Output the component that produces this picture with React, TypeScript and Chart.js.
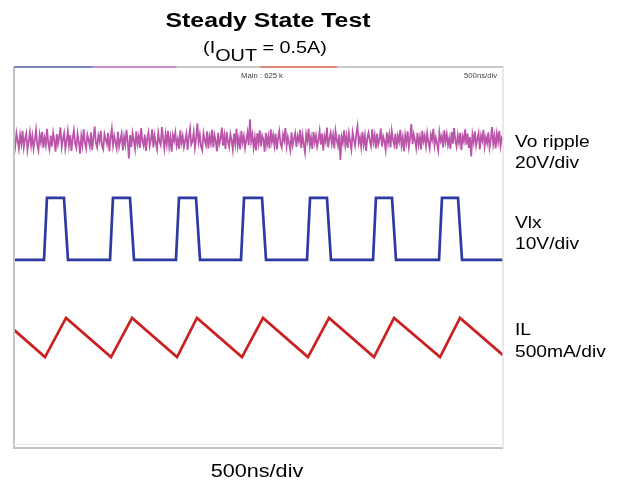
import React, { useEffect, useRef } from "react";
import { Chart, registerables } from "chart.js";

Chart.register(...registerables);

// Time axis: 10 divisions x 500 ns
const timeMin = 0;
const timeMax = 5000;
// Vertical axis in screen divisions (8 divisions)
const divMin = 0;
const divMax = 8;

// Vo ripple samples (one every 12.5 ns), in divisions
const voStep = 12.5;
const voRipple = [
  6.52, 6.34, 6.61, 6.45, 6.28, 6.57, 6.39, 6.66, 6.31, 6.49,
  6.60, 6.26, 6.44, 6.63, 6.35, 6.55, 6.29, 6.47, 6.68, 6.37,
  6.25, 6.58, 6.42, 6.64, 6.30, 6.51, 6.36, 6.70, 6.40, 6.27,
  6.56, 6.33, 6.62, 6.46, 6.22, 6.59, 6.38, 6.53, 6.73, 6.32,
  6.48, 6.61, 6.28, 6.44, 6.65, 6.35, 6.57, 6.24, 6.50, 6.67,
  6.39, 6.30, 6.60, 6.43, 6.18, 6.54, 6.36, 6.69, 6.41, 6.29,
  6.58, 6.47, 6.33, 6.63, 6.26, 6.52, 6.75, 6.40, 6.31, 6.56,
  6.44, 6.66, 6.34, 6.27, 6.59, 6.48, 6.38, 6.62, 6.23, 6.51,
  6.70, 6.36, 6.55, 6.42, 6.29, 6.64, 6.33, 6.47, 6.60, 6.25,
  6.53, 6.37, 6.68, 6.43, 6.08, 6.57, 6.32, 6.61, 6.46, 6.28,
  6.65, 6.39, 6.54, 6.30, 6.72, 6.45, 6.35, 6.58, 6.24, 6.50,
  6.63, 6.34, 6.47, 6.69, 6.31, 6.56, 6.40, 6.27, 6.61, 6.44,
  6.36, 6.74, 6.49, 6.29, 6.59, 6.38, 6.66, 6.33, 6.52, 6.22,
  6.57, 6.45, 6.62, 6.35, 6.48, 6.28, 6.67, 6.41, 6.55, 6.32,
  6.46, 6.60, 6.26, 6.53, 6.71, 6.37, 6.44, 6.63, 6.30, 6.50,
  6.82, 6.42, 6.58, 6.33, 6.25, 6.61, 6.47, 6.36, 6.65, 6.29,
  6.54, 6.40, 6.68, 6.31, 6.57, 6.45, 6.23, 6.62, 6.38, 6.49,
  6.73, 6.35, 6.56, 6.28, 6.64, 6.43, 6.32, 6.59, 6.46, 6.26,
  6.60, 6.39, 6.70, 6.34, 6.51, 6.27, 6.66, 6.42, 6.55, 6.30,
  6.47, 6.63, 6.36, 6.90, 6.44, 6.58, 6.31, 6.52, 6.25, 6.61,
  6.40, 6.67, 6.33, 6.56, 6.48, 6.22, 6.62, 6.37, 6.54, 6.29,
  6.69, 6.43, 6.57, 6.35, 6.60, 6.27, 6.50, 6.65, 6.39, 6.31,
  6.58, 6.46, 6.72, 6.34, 6.53, 6.41, 6.26, 6.63, 6.36, 6.49,
  6.61, 6.32, 6.55, 6.44, 6.68, 6.30, 6.57, 6.38, 6.21, 6.59,
  6.45, 6.70, 6.35, 6.52, 6.28, 6.64, 6.42, 6.56, 6.33, 6.47,
  6.66, 6.37, 6.60, 6.25, 6.54, 6.43, 6.73, 6.31, 6.50, 6.62,
  6.39, 6.57, 6.29, 6.65, 6.46, 6.34, 6.58, 6.05, 6.53, 6.41,
  6.67, 6.36, 6.55, 6.30, 6.61, 6.44, 6.27, 6.63, 6.48, 6.35,
  6.59, 6.76, 6.40, 6.52, 6.32, 6.64, 6.38, 6.56, 6.24, 6.51,
  6.62, 6.45, 6.34, 6.69, 6.42, 6.57, 6.29, 6.60, 6.37, 6.48,
  6.71, 6.33, 6.54, 6.44, 6.26, 6.63, 6.40, 6.58, 6.31, 6.66,
  6.47, 6.36, 6.60, 6.28, 6.55, 6.43, 6.68, 6.35, 6.52, 6.23,
  6.57, 6.41, 6.65, 6.32, 6.50, 6.80, 6.38, 6.59, 6.46, 6.30,
  6.62, 6.37, 6.53, 6.27, 6.66, 6.44, 6.56, 6.34, 6.61, 6.42,
  6.29, 6.58, 6.47, 6.70, 6.35, 6.52, 6.40, 6.25, 6.63, 6.45,
  6.55, 6.31, 6.67, 6.43, 6.59, 6.36, 6.50, 6.28, 6.64, 6.39,
  6.72, 6.46, 6.33, 6.57, 6.41, 6.62, 6.26, 6.54, 6.44, 6.69,
  6.37, 6.60, 6.30, 6.53, 6.12, 6.58, 6.42, 6.65, 6.35, 6.49,
  6.61, 6.27, 6.56, 6.45, 6.68, 6.33, 6.52, 6.40, 6.63, 6.31,
  6.48, 6.74, 6.38, 6.55, 6.29, 6.60, 6.43, 6.66, 6.34, 6.51,
  6.45,
];

// Vlx switching node: corner times (ns) and levels (div)
const vlxTimes = [
  0, 307, 337, 511, 552,
  982, 1012, 1186, 1227,
  1656, 1687, 1861, 1902,
  2321, 2352, 2536, 2577,
  2996, 3027, 3200, 3241,
  3671, 3701, 3865, 3906,
  4346, 4376, 4540, 4581,
  5000,
];
const vlxValues = [
  3.95, 3.95, 5.25, 5.25, 3.95,
  3.95, 5.25, 5.25, 3.95,
  3.95, 5.25, 5.25, 3.95,
  3.95, 5.25, 5.25, 3.95,
  3.95, 5.25, 5.25, 3.95,
  3.95, 5.25, 5.25, 3.95,
  3.95, 5.25, 5.25, 3.95,
  3.95,
];

// Inductor current: valley/peak times (ns) and levels (div)
const ilTimes = [0, 317, 532, 992, 1207, 1667, 1871, 2331, 2546, 3006, 3221, 3681, 3886, 4356, 4560, 5000];
const ilValues = [2.48, 1.91, 2.73, 1.91, 2.73, 1.91, 2.73, 1.91, 2.73, 1.91, 2.73, 1.91, 2.73, 1.91, 2.73, 1.95];

const titleText = "Steady State Test";
const subtitleParts = ["(I", "OUT", " = 0.5A)"];
const xTitleText = "500ns/div";
const scopeHeaderCenter = "Main : 625 k";
const scopeHeaderRight = "500ns/div";
const traceLabels = [
  ["Vo ripple", "20V/div"],
  ["Vlx", "10V/div"],
  ["IL", "500mA/div"],
];

const FONT = "'Liberation Sans', Arial, Helvetica, sans-serif";
const SX = 1.2;

function stretchedText(
  ctx: CanvasRenderingContext2D,
  text: string,
  x: number,
  y: number,
  font: string,
  align: CanvasTextAlign,
  sx: number,
  color = "#000"
) {
  ctx.save();
  ctx.font = font;
  ctx.fillStyle = color;
  ctx.textAlign = align;
  ctx.textBaseline = "alphabetic";
  ctx.translate(x, y);
  ctx.scale(sx, 1);
  ctx.fillText(text, 0, 0);
  ctx.restore();
}

const decorPlugin = {
  id: "scopeDecor",
  beforeDraw(chart: any) {
    const ctx = chart.ctx as CanvasRenderingContext2D;
    ctx.save();
    ctx.fillStyle = "#ffffff";
    ctx.fillRect(0, 0, chart.width, chart.height);
    ctx.restore();
  },
  afterDraw(chart: any) {
    const ctx = chart.ctx as CanvasRenderingContext2D;
    const a = chart.chartArea;

    // screen frame
    ctx.save();
    ctx.strokeStyle = "#c4c4c4";
    ctx.lineWidth = 2;
    ctx.beginPath();
    ctx.moveTo(a.left, a.top);
    ctx.lineTo(a.left, a.bottom);
    ctx.lineTo(a.right, a.bottom);
    ctx.stroke();
    ctx.strokeStyle = "#e2e2e2";
    ctx.lineWidth = 1.5;
    ctx.beginPath();
    ctx.moveTo(a.right, a.top);
    ctx.lineTo(a.right, a.bottom);
    ctx.stroke();
    ctx.strokeStyle = "#ececec";
    ctx.lineWidth = 1;
    ctx.beginPath();
    ctx.moveTo(a.left, a.bottom - 3.5);
    ctx.lineTo(a.right, a.bottom - 3.5);
    ctx.stroke();

    // top channel bar
    const w = a.right - a.left;
    const segs: [number, number, string][] = [
      [0, 0.162, "#7a86c4"],
      [0.162, 0.333, "#c48cc8"],
      [0.333, 0.503, "#c9c9c9"],
      [0.503, 0.661, "#e08878"],
      [0.661, 1, "#c9c9c9"],
    ];
    ctx.lineWidth = 2;
    for (const [s, e, c] of segs) {
      ctx.strokeStyle = c;
      ctx.beginPath();
      ctx.moveTo(a.left + s * w, a.top);
      ctx.lineTo(a.left + e * w, a.top);
      ctx.stroke();
    }
    ctx.restore();

    stretchedText(ctx, scopeHeaderCenter, 262, 78, "7px " + FONT, "center", 1.1, "#444");
    stretchedText(ctx, scopeHeaderRight, a.right - 6, 78, "7px " + FONT, "right", 1.1, "#444");

    // title
    stretchedText(ctx, titleText, 268, 27, "bold 20px " + FONT, "center", 1.24);

    // subtitle with subscript
    const subFont = "16.5px " + FONT;
    ctx.save();
    ctx.font = subFont;
    const widths = subtitleParts.map((p) => ctx.measureText(p).width * SX);
    ctx.restore();
    const total = widths.reduce((s, v) => s + v, 0);
    let x = 265 - total / 2;
    const baselines = [53, 61, 53];
    subtitleParts.forEach((p, i) => {
      stretchedText(ctx, p, x, baselines[i], subFont, "left", SX);
      x += widths[i];
    });

    // x axis caption
    stretchedText(ctx, xTitleText, 257, 477, "18px " + FONT, "center", 1.2);

    // trace labels
    const labelY = [
      [147, 168],
      [228, 249],
      [335, 357],
    ];
    traceLabels.forEach((pair, i) => {
      stretchedText(ctx, pair[0], a.right + 12, labelY[i][0], "17px " + FONT, "left", 1.13);
      stretchedText(ctx, pair[1], a.right + 12, labelY[i][1], "17px " + FONT, "left", 1.13);
    });
  },
};

export default function App() {
  const canvasRef = useRef<HTMLCanvasElement | null>(null);

  useEffect(() => {
    if (!canvasRef.current) return;
    const voData = voRipple.map((v, i) => ({ x: i * voStep, y: v }));
    const vlxData = vlxTimes.map((t, i) => ({ x: t, y: vlxValues[i] }));
    const ilData = ilTimes.map((t, i) => ({ x: t, y: ilValues[i] }));

    const chart = new Chart(canvasRef.current, {
      type: "line",
      data: {
        datasets: [
          {
            label: "Vo ripple",
            data: voData,
            borderColor: "rgba(178, 62, 158, 0.88)",
            borderWidth: 1.8,
            pointRadius: 0,
            tension: 0,
          },
          {
            label: "Vlx",
            data: vlxData,
            borderColor: "#2c3aa2",
            borderWidth: 2.7,
            pointRadius: 0,
            tension: 0,
          },
          {
            label: "IL",
            data: ilData,
            borderColor: "#cc2020",
            borderWidth: 2.7,
            pointRadius: 0,
            tension: 0,
          },
        ],
      },
      options: {
        responsive: false,
        animation: false,
        devicePixelRatio: 1,
        layout: { padding: { left: 14, top: 67, right: 117, bottom: 39 } },
        plugins: {
          legend: { display: false },
          tooltip: { enabled: false },
          title: { display: false },
        },
        scales: {
          x: { type: "linear", min: timeMin, max: timeMax, display: false },
          y: { type: "linear", min: divMin, max: divMax, display: false },
        },
      },
      plugins: [decorPlugin],
    });
    return () => chart.destroy();
  }, []);

  return (
    <div style={{ position: "fixed", left: 0, top: 0, width: 620, height: 487, background: "#fff" }}>
      <canvas ref={canvasRef} width={620} height={487} style={{ width: 620, height: 487, display: "block" }} />
    </div>
  );
}
